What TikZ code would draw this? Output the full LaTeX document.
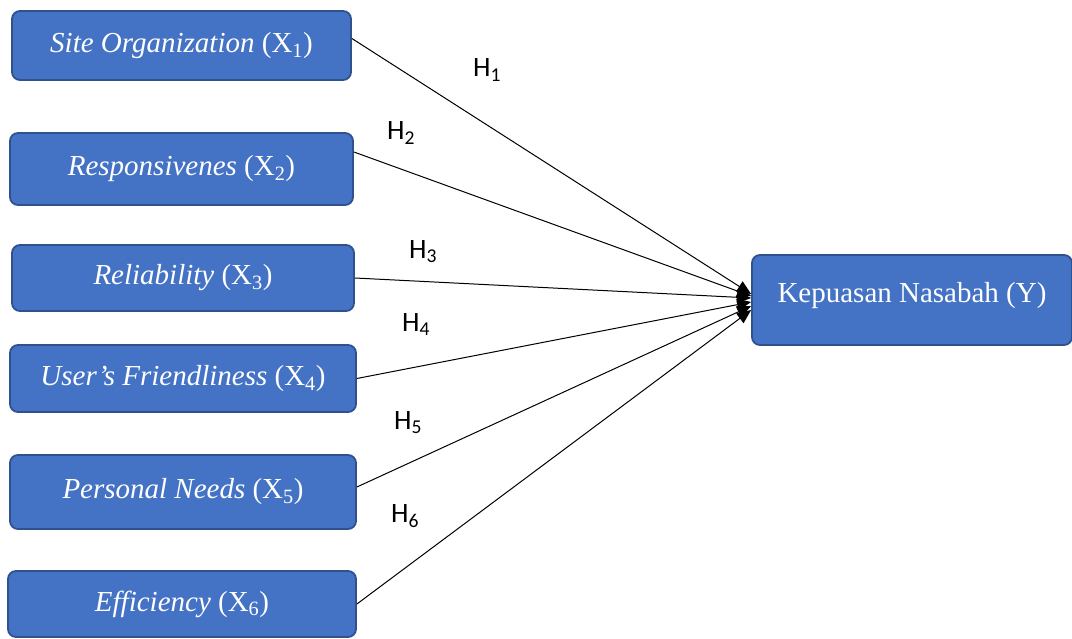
\documentclass[tikz,border=0pt]{standalone}
\usepackage{fontspec}
\setmainfont{Liberation Serif}
\newfontfamily\hfont{Carlito}
\usetikzlibrary{arrows.meta}
\definecolor{boxfill}{HTML}{4472C4}
\definecolor{boxline}{HTML}{2F528F}
\tikzset{
  varbox/.style={draw=boxline, line width=1.8pt, fill=boxfill, rounded corners=8pt,
    text=white, font=\fontsize{29}{32}\selectfont, inner sep=0pt, anchor=center},
  hlab/.style={font=\hfont\fontsize{28}{30}\selectfont, inner sep=0pt},
  conn/.style={line width=1pt, -{Triangle[length=14pt,width=12pt]}}
}
\newcommand{\sx}[1]{\textsubscript{#1}}
\begin{document}
\begin{tikzpicture}[x=1pt,y=-1pt]
\useasboundingbox (0,0) rectangle (1072,639);
\node[varbox, minimum width=339pt, minimum height=69pt] (x1) at (181.5,45.5) {\textit{Site Organization} (X\sx{1})};
\node[varbox, minimum width=343pt, minimum height=72pt] (x2) at (181.5,169) {\textit{Responsivenes} (X\sx{2})};
\node[varbox, minimum width=342pt, minimum height=66pt] (x3) at (183,278) {\textit{Reliability} (X\sx{3})};
\node[varbox, minimum width=346pt, minimum height=67pt] (x4) at (183,378.5) {\textit{User’s Friendliness} (X\sx{4})};
\node[varbox, minimum width=346pt, minimum height=74pt] (x5) at (183,492) {\textit{Personal Needs} (X\sx{5})};
\node[varbox, minimum width=348pt, minimum height=66pt] (x6) at (182,604) {\textit{Efficiency} (X\sx{6})};
\node[varbox, minimum width=320pt, minimum height=90pt, text depth=15pt] (y) at (912,300) {Kepuasan Nasabah (Y)};
\draw[conn] ([yshift=7pt]x1.east) -- ([yshift=6pt]y.west);
\draw[conn] ([yshift=17pt]x2.east) -- ([yshift=4pt]y.west);
\draw[conn] (x3.east) -- ([yshift=2pt]y.west);
\draw[conn] (x4.east) -- ([yshift=-2pt]y.west);
\draw[conn] ([yshift=5pt]x5.east) -- ([yshift=-6pt]y.west);
\draw[conn] (x6.east) -- ([yshift=-10pt]y.west);
\node[hlab] (h1) at (487,70) {H\sx{1}};
\node[hlab] (h2) at (401,133) {H\sx{2}};
\node[hlab] (h3) at (423,252) {H\sx{3}};
\node[hlab] (h4) at (416,325) {H\sx{4}};
\node[hlab] (h5) at (408,423) {H\sx{5}};
\node[hlab] (h6) at (405,516) {H\sx{6}};
\end{tikzpicture}
\end{document}
